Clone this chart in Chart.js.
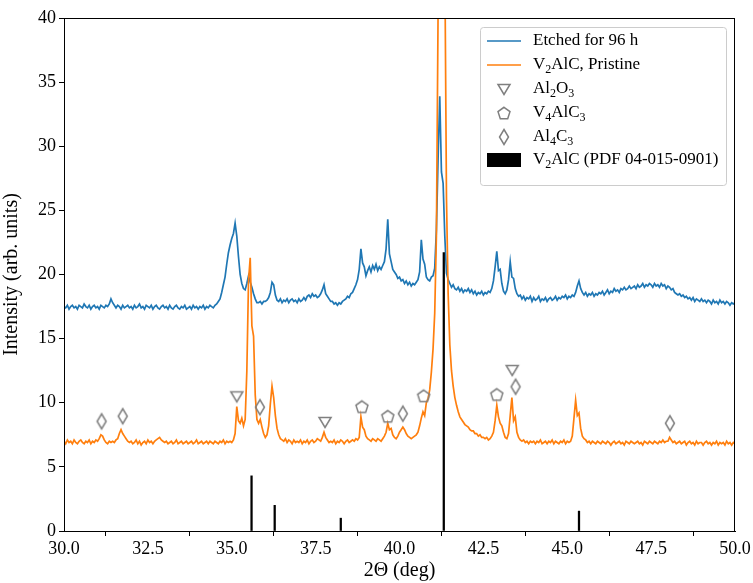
<!DOCTYPE html>
<html>
<head>
<meta charset="utf-8">
<script src="https://cdn.jsdelivr.net/npm/chart.js@4.4.0/dist/chart.umd.min.js"></script>
<style>
  html, body { margin: 0; padding: 0; background: #fff; }
</style>
</head>
<body>
<canvas id="xrd" width="753" height="583"></canvas>
<script>
// scan grid: 30.00 .. 50.00 deg, 0.05 deg step
var scanStart = 30.0;
var scanStep = 0.05;

// Etched for 96 h (one row per degree, 20 points each)
var etchedIntensity = [
  17.5, 17.4, 17.6, 17.3, 17.5, 17.6, 17.4, 17.5, 17.3, 17.6, 17.5, 17.4, 17.7, 17.5, 17.4, 17.6, 17.3, 17.5, 17.6, 17.4,
  17.5, 17.3, 17.6, 17.5, 17.4, 17.6, 17.5, 17.7, 18.1, 17.8, 17.6, 17.4, 17.6, 17.5, 17.3, 17.6, 17.4, 17.5, 17.6, 17.4,
  17.5, 17.3, 17.6, 17.4, 17.5, 17.7, 17.4, 17.5, 17.3, 17.6, 17.5, 17.4, 17.6, 17.3, 17.5, 17.6, 17.4, 17.3, 17.5, 17.6,
  17.4, 17.5, 17.3, 17.6, 17.4, 17.3, 17.5, 17.6, 17.4, 17.3, 17.5, 17.4, 17.6, 17.3, 17.4, 17.5, 17.3, 17.6, 17.4, 17.5,
  17.3, 17.5, 17.4, 17.6, 17.3, 17.5, 17.4, 17.6, 17.5, 17.4, 17.6, 17.7, 17.9, 18.1, 18.6, 19.2, 19.8, 20.8, 21.7, 22.3,
  22.8, 23.2, 24.0, 23.0, 21.4, 20.0, 19.3, 18.9, 18.8, 19.3, 19.9, 19.4, 19.0, 18.5, 18.1, 17.8, 17.8, 17.9, 17.7, 17.9,
  17.9, 18.0, 18.2, 18.6, 19.4, 19.2, 18.4, 18.0, 17.9, 18.1, 17.8, 18.0, 17.9, 18.1, 17.8, 18.0, 18.1, 17.9, 18.0, 17.8,
  18.1, 17.9, 18.0, 18.2, 18.0, 18.3, 18.4, 18.2, 18.5, 18.3, 18.4, 18.2, 18.3, 18.5, 18.8, 19.2, 18.5, 18.3, 18.1, 17.9,
  17.9, 17.7, 17.8, 17.6, 17.8, 17.7, 17.9, 18.0, 18.1, 18.3, 18.2, 18.5, 18.6, 18.9, 19.2, 19.6, 20.4, 22.0, 20.9, 20.6,
  19.9, 20.3, 20.6, 20.2, 20.7, 20.4, 20.8, 20.3, 20.6, 20.4, 20.7, 21.0, 22.0, 24.3, 21.6, 21.0, 20.4, 20.2, 20.0, 19.7,
  19.8, 19.5, 19.6, 19.3, 19.5, 19.2, 19.4, 19.1, 19.3, 19.2, 19.4, 19.6, 20.2, 22.7, 21.2, 20.8, 19.8, 19.6, 19.5, 19.8,
  19.9, 20.5, 23.5, 29.0, 33.9, 28.0, 27.1, 23.0, 20.1, 19.6, 19.3, 19.0, 19.2, 18.9, 18.8, 19.0, 18.7, 18.9, 18.6, 18.8,
  18.7, 18.9, 18.6, 18.8, 18.5, 18.7, 18.4, 18.6, 18.5, 18.7, 18.4, 18.6, 18.5, 18.7, 18.6, 18.9, 19.5, 20.6, 21.8, 20.3,
  20.4, 19.3, 18.7, 18.5, 18.8, 19.6, 21.0, 19.8, 19.7, 18.9, 18.5, 18.3, 18.4, 18.1, 18.3, 18.0, 18.2, 18.1, 18.3, 17.9,
  18.2, 18.0, 18.1, 18.3, 17.9, 18.1, 18.0, 18.2, 17.9, 18.1, 18.2, 18.0, 18.1, 18.3, 18.0, 18.2, 18.1, 18.3, 18.2, 18.4,
  18.1, 18.3, 18.2, 18.4, 18.3, 18.6, 19.1, 19.5, 18.9, 18.6, 18.4, 18.6, 18.3, 18.5, 18.4, 18.6, 18.3, 18.5, 18.4, 18.6,
  18.5, 18.7, 18.4, 18.6, 18.8, 18.5, 18.7, 18.6, 18.9, 18.7, 18.8, 18.6, 18.9, 18.8, 19.0, 18.8, 18.9, 19.1, 18.9, 19.0,
  19.1, 18.9, 19.2, 19.0, 19.1, 19.3, 19.0, 19.2, 19.1, 19.3, 19.2, 19.0, 19.3, 19.1, 19.2, 19.0, 19.3, 19.1, 19.2, 18.9,
  19.1, 19.0, 18.8, 18.9, 18.6, 18.5, 18.4, 18.5, 18.3, 18.4, 18.2, 18.3, 18.1, 18.2, 18.0, 18.2, 17.9, 18.1, 18.0, 17.9,
  18.1, 17.9, 18.0, 17.8, 18.0, 17.9, 17.7, 18.0, 17.8, 17.9, 17.7, 18.0, 17.8, 17.9, 17.7, 17.9, 17.8, 17.6, 17.8, 17.7,
  17.8
];

// V2AlC, Pristine
var pristineIntensity = [
  7.0, 6.8, 7.1, 6.9, 7.0, 6.8, 7.1, 6.9, 6.8, 7.0, 7.1, 6.9, 6.8, 7.0, 6.9, 7.1, 6.8, 7.0, 6.9, 7.1,
  7.0, 7.2, 7.5, 7.4, 7.1, 6.9, 6.8, 7.0, 6.9, 7.0, 6.9, 7.1, 7.2, 7.6, 7.9, 7.6, 7.4, 7.2, 7.0, 6.9,
  7.0, 6.8, 6.9, 7.1, 6.8, 7.0, 6.7, 6.9, 7.0, 6.8, 7.1, 6.9, 7.0, 6.8, 7.0, 7.1, 7.2, 7.3, 7.1, 7.0,
  6.9, 7.0, 6.8, 6.9, 7.0, 6.8, 6.9, 7.1, 6.8, 6.9, 7.0, 6.8, 6.9, 7.0, 6.8, 6.9, 7.0, 6.8, 6.9, 7.1,
  6.8, 6.9, 7.0, 6.8, 6.9, 7.0, 6.8, 7.0, 6.9, 6.8, 7.0, 6.9, 6.8, 7.0, 6.9, 7.1, 6.8, 7.0, 6.9, 7.0,
  6.9, 7.1, 7.6, 9.7, 8.6, 8.4, 8.8, 8.2, 8.7, 12.5, 19.5, 21.3, 16.0, 15.2, 10.6, 8.7, 8.4, 8.7, 8.1, 7.6,
  7.3, 7.5, 8.2, 9.9, 11.3, 10.4, 9.0, 8.0, 7.5, 7.2, 7.1, 7.0, 7.2, 6.9, 7.1, 7.0, 6.8, 7.1, 6.9, 7.0,
  6.9, 7.1, 6.8, 7.0, 6.9, 7.1, 6.8, 7.0, 7.1, 6.9, 7.0, 7.2, 7.1, 7.0, 7.3, 7.7, 7.3, 7.1, 6.9, 7.0,
  6.9, 7.1, 6.8, 7.0, 6.9, 7.1, 7.0, 6.8, 7.0, 7.1, 6.9, 7.0, 7.1, 7.0, 7.2, 7.1, 7.3, 8.9, 8.1, 7.9,
  7.4, 7.2, 7.1, 7.0, 7.2, 7.1, 7.0, 7.2, 7.1, 7.0, 7.2, 7.4, 7.7, 8.4, 7.9, 8.0, 7.5, 7.3, 7.2, 7.4,
  7.7, 7.9, 8.1, 7.9, 7.6, 7.4, 7.3, 7.2, 7.3, 7.4, 7.5, 7.7, 8.2, 8.8, 9.3, 9.0, 10.0, 10.3, 11.0, 12.4,
  14.2, 17.0, 23.0, 40.5, 60.0, 70.0, 62.0, 45.0, 26.0, 18.5, 14.5, 12.5, 11.3, 10.4, 9.8, 9.3, 8.9, 8.7, 8.5, 8.3,
  8.2, 8.1, 7.9, 7.8, 7.8, 7.6, 7.6, 7.4, 7.5, 7.3, 7.3, 7.2, 7.3, 7.1, 7.2, 7.4, 7.7, 8.6, 9.8, 8.9,
  8.4, 8.2, 7.7, 7.3, 7.2, 7.6, 9.0, 10.4, 8.6, 8.9, 7.7, 7.3, 7.1, 7.0, 7.1, 6.9, 7.0, 6.8, 7.0, 6.9,
  7.0, 6.8, 7.0, 6.9, 7.1, 6.8, 6.9, 7.0, 6.8, 7.0, 6.9, 7.1, 6.8, 7.0, 6.9, 6.8, 7.0, 6.9, 7.1, 6.8,
  7.0, 6.9, 7.0, 7.4, 8.8, 10.2, 9.0, 9.2, 8.0, 7.4, 7.2, 7.1, 6.9, 7.0, 6.8, 7.0, 6.9, 6.8, 7.0, 6.9,
  6.8, 7.0, 6.9, 6.8, 7.0, 6.9, 6.7, 6.9, 7.0, 6.8, 6.9, 7.0, 6.8, 6.9, 6.7, 7.0, 6.9, 6.8, 7.0, 6.9,
  6.8, 6.9, 7.0, 6.8, 6.9, 6.7, 7.0, 6.9, 6.8, 7.0, 6.9, 6.8, 7.0, 6.9, 6.8, 7.0, 6.9, 7.1, 6.9, 7.0,
  7.0, 7.3, 7.1, 6.9, 7.0, 6.8, 6.9, 7.0, 6.8, 6.9, 7.0, 6.7, 6.9, 7.0, 6.8, 6.9, 6.7, 7.0, 6.8, 6.9,
  6.9, 6.7, 6.9, 7.0, 6.8, 6.9, 6.7, 6.9, 6.8, 7.0, 6.7, 6.9, 6.8, 6.9, 6.7, 7.0, 6.8, 6.9, 6.7, 6.9,
  6.8
];

// phase markers
var al2o3X = [35.15, 37.78, 43.36];
var al2o3Y = [10.5, 8.5, 12.55];
var v4alc3X = [38.88, 39.65, 40.72, 42.90];
var v4alc3Y = [9.7, 8.95, 10.55, 10.65];
var al4c3X = [31.12, 31.75, 35.84, 40.10, 43.46, 48.06];
var al4c3Y = [8.55, 8.95, 9.65, 9.15, 11.25, 8.4];

// V2AlC reference lines (PDF 04-015-0901)
var pdfX = [35.59, 36.28, 38.25, 41.32, 45.35];
var pdfY = [4.3, 2.0, 1.0, 21.7, 1.55];

var xTicks = [30, 32.5, 35, 37.5, 40, 42.5, 45, 47.5, 50];

var legendLabels = [
  "Etched for 96 h",
  "V_2AlC, Pristine",
  "Al_2O_3",
  "V_4AlC_3",
  "Al_4C_3",
  "V_2AlC (PDF 04-015-0901)"
];

var SERIF = '"Liberation Serif", "DejaVu Serif", serif';
var BLUE = "#1f77b4";
var ORANGE = "#ff7f0e";
var GREY = "#7f7f7f";

function toPoints(values) {
  return values.map(function(v, i) {
    return { x: scanStart + i * scanStep, y: v };
  });
}

function pairUp(xs, ys) {
  return xs.map(function(x, i) { return { x: x, y: ys[i] }; });
}

// open grey marker shapes, matplotlib style
function makeMarker(kind) {
  var c = document.createElement("canvas");
  c.width = 20;
  c.height = 20;
  var g = c.getContext("2d");
  g.strokeStyle = GREY;
  g.lineWidth = 1.5;
  g.beginPath();
  if (kind === "tri") {
    g.moveTo(4, 5.5);
    g.lineTo(16, 5.5);
    g.lineTo(10, 15.5);
  } else if (kind === "pent") {
    for (var k = 0; k < 5; k++) {
      var a = -Math.PI / 2 + k * 2 * Math.PI / 5;
      var px = 10 + 6.3 * Math.cos(a);
      var py = 10.6 + 6.3 * Math.sin(a);
      if (k === 0) g.moveTo(px, py); else g.lineTo(px, py);
    }
  } else {
    g.moveTo(10, 2.5);
    g.lineTo(14.5, 10);
    g.lineTo(10, 17.5);
    g.lineTo(5.5, 10);
  }
  g.closePath();
  g.stroke();
  return c;
}

var triMarker = makeMarker("tri");
var pentMarker = makeMarker("pent");
var diaMarker = makeMarker("dia");

// draw "A_2B" style text with subscripts
function drawRich(ctx, text, x, y, size) {
  var parts = text.split(/(_\d)/);
  ctx.textBaseline = "middle";
  ctx.textAlign = "left";
  parts.forEach(function(p) {
    if (!p) return;
    if (p.charAt(0) === "_") {
      ctx.font = Math.round(size * 0.7) + "px " + SERIF;
      ctx.fillText(p.substring(1), x, y + size * 0.28);
      x += ctx.measureText(p.substring(1)).width;
    } else {
      ctx.font = size + "px " + SERIF;
      ctx.fillText(p, x, y);
      x += ctx.measureText(p).width;
    }
  });
}

var framePlugin = {
  id: "frame",
  afterDraw: function(chart) {
    var ctx = chart.ctx;
    var a = chart.chartArea;
    ctx.save();
    ctx.strokeStyle = "#000";
    ctx.lineWidth = 1;
    ctx.strokeRect(Math.round(a.left) + 0.5, Math.round(a.top) + 0.5,
      Math.round(a.right - a.left) - 1, Math.round(a.bottom - a.top));

    // legend box
    var bx = 480, by = 27, bw = 246, bh = 158;
    ctx.fillStyle = "rgba(255,255,255,0.8)";
    ctx.strokeStyle = "#cccccc";
    ctx.beginPath();
    ctx.roundRect(bx + 0.5, by + 0.5, bw, bh, 3);
    ctx.fill();
    ctx.stroke();

    var rows = [41, 65, 89, 113, 137, 160];
    ctx.lineWidth = 1.5;
    ctx.strokeStyle = BLUE;
    ctx.beginPath(); ctx.moveTo(487, rows[0]); ctx.lineTo(521, rows[0]); ctx.stroke();
    ctx.strokeStyle = ORANGE;
    ctx.beginPath(); ctx.moveTo(487, rows[1]); ctx.lineTo(521, rows[1]); ctx.stroke();
    ctx.drawImage(triMarker, 494, rows[2] - 10);
    ctx.drawImage(pentMarker, 494, rows[3] - 10);
    ctx.drawImage(diaMarker, 494, rows[4] - 10);
    ctx.fillStyle = "#000";
    ctx.fillRect(487, rows[5] - 7, 34, 14);

    ctx.fillStyle = "#000";
    legendLabels.forEach(function(lbl, i) {
      drawRich(ctx, lbl, 533, rows[i], 17);
    });
    ctx.restore();
  }
};

Chart.defaults.font.family = SERIF;
Chart.defaults.color = "#000";

new Chart(document.getElementById("xrd").getContext("2d"), {
  data: {
    datasets: [
      {
        type: "bar",
        label: "V2AlC (PDF 04-015-0901)",
        data: pairUp(pdfX, pdfY),
        backgroundColor: "#000",
        barThickness: 1.6,
        grouped: false,
        order: 0
      },
      {
        type: "scatter",
        label: "Al2O3",
        data: pairUp(al2o3X, al2o3Y),
        pointStyle: triMarker,
        order: 1
      },
      {
        type: "scatter",
        label: "V4AlC3",
        data: pairUp(v4alc3X, v4alc3Y),
        pointStyle: pentMarker,
        order: 1
      },
      {
        type: "scatter",
        label: "Al4C3",
        data: pairUp(al4c3X, al4c3Y),
        pointStyle: diaMarker,
        order: 1
      },
      {
        type: "line",
        label: "V2AlC, Pristine",
        data: toPoints(pristineIntensity),
        borderColor: ORANGE,
        borderWidth: 1.7,
        pointRadius: 0,
        tension: 0,
        order: 2
      },
      {
        type: "line",
        label: "Etched for 96 h",
        data: toPoints(etchedIntensity),
        borderColor: BLUE,
        borderWidth: 1.7,
        pointRadius: 0,
        tension: 0,
        order: 3
      }
    ]
  },
  options: {
    responsive: false,
    animation: false,
    events: [],
    layout: { padding: { left: 0, right: 18, top: 18, bottom: 0 } },
    plugins: {
      legend: { display: false },
      tooltip: { enabled: false }
    },
    scales: {
      x: {
        type: "linear",
        min: 30,
        max: 50,
        offset: false,
        afterFit: function(scale) { scale.height = 52; },
        afterBuildTicks: function(scale) {
          scale.ticks = xTicks.map(function(v) { return { value: v }; });
        },
        ticks: {
          font: { size: 18 },
          padding: 2,
          maxRotation: 0,
          autoSkip: false,
          callback: function(v) { return Number(v).toFixed(1); }
        },
        grid: { drawOnChartArea: false, drawTicks: true, tickLength: 5, color: "#000" },
        border: { display: true, color: "#000", width: 1 },
        title: {
          display: true,
          text: "2Θ (deg)",
          font: { size: 20 },
          padding: { top: 2, bottom: 0 }
        }
      },
      y: {
        type: "linear",
        min: 0,
        max: 40,
        afterFit: function(scale) { scale.width = 64; },
        ticks: { stepSize: 5, font: { size: 18 }, padding: 3 },
        grid: { drawOnChartArea: false, drawTicks: true, tickLength: 5, color: "#000" },
        border: { display: true, color: "#000", width: 1 },
        title: {
          display: true,
          text: "Intensity (arb. units)",
          font: { size: 20 },
          padding: { top: 0, bottom: 0 }
        }
      }
    }
  },
  plugins: [framePlugin]
});
</script>
</body>
</html>
